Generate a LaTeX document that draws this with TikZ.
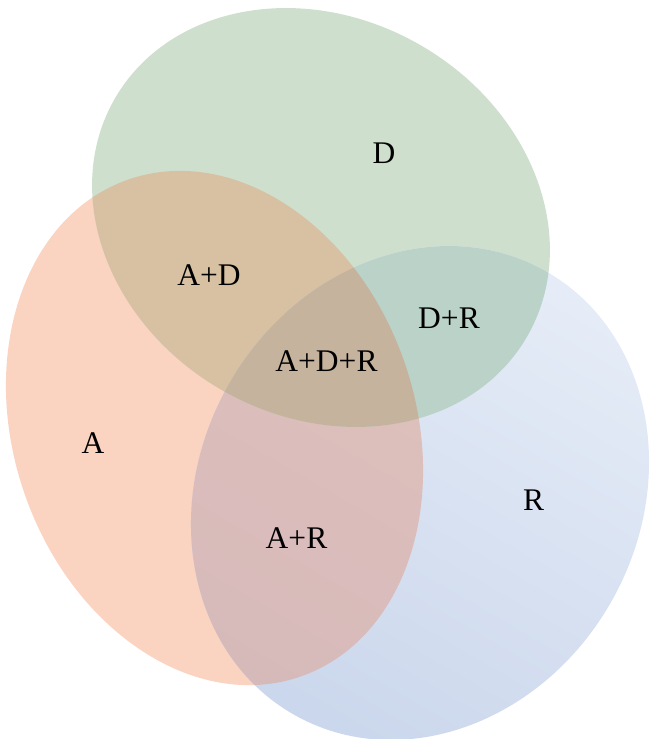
\documentclass[tikz,border=0pt]{standalone}
\usepackage{fontspec}
\setmainfont{Liberation Serif}
\usepackage{tikz}

\definecolor{colA}{RGB}{251,211,193}
\definecolor{colD}{RGB}{206,223,206}
\definecolor{colRlight}{RGB}{229,236,247}
\definecolor{colRdark}{RGB}{203,215,236}
\definecolor{colAD}{RGB}{216,193,162}
\definecolor{colDR}{RGB}{186,210,200}
\definecolor{colARlight}{RGB}{225,194,188}
\definecolor{colARdark}{RGB}{214,186,186}
\definecolor{colADR}{RGB}{197,179,157}

\tikzset{
	setA/.style={shift={(214.5,-428)},rotate=19.1,x radius=201pt,y radius=263pt},
	setD/.style={shift={(321,-217.5)},rotate=-30,x radius=238pt,y radius=199pt},
	setR/.style={shift={(420,-493)},rotate=60.4,x radius=255pt,y radius=220pt},
	lbl/.style={anchor=base,inner sep=0pt,font=\fontsize{31.5}{36}\selectfont}
}

\begin{document}
\begin{tikzpicture}[x=1pt,y=1pt]
		\clip (0,0) rectangle (650,-739);
		
		% the three sets
		\fill[setA,colA] (0,0) ellipse;
		\fill[setD,colD] (0,0) ellipse;
		\shade[setR,left color=colRdark,right color=colRlight,shading angle=150] (0,0) ellipse;
		
		% overlaps
		\begin{scope}
		\clip[setA] (0,0) ellipse;
		\fill[setD,colAD] (0,0) ellipse;
		\shade[setR,left color=colARdark,right color=colARlight,shading angle=150] (0,0) ellipse;
		\end{scope}
		\begin{scope}
		\clip[setD] (0,0) ellipse;
		\fill[setR,colDR] (0,0) ellipse;
		\end{scope}
		\begin{scope}
		\clip[setA] (0,0) ellipse;
		\clip[setD] (0,0) ellipse;
		\fill[setR,colADR] (0,0) ellipse;
		\end{scope}
		
		\node[lbl] (a) at (93,-453) {A};
		\node[lbl] (d) at (384,-163) {D};
		\node[lbl] (r) at (533.5,-510) {R};
		\node[lbl] (ad) at (209,-285) {A+D};
		\node[lbl] (dr) at (449,-328) {D+R};
		\node[lbl] (ar) at (296.5,-548) {A+R};
		\node[lbl] (adr) at (326.5,-371.5) {A+D+R};
		\end{tikzpicture}
\end{document}
